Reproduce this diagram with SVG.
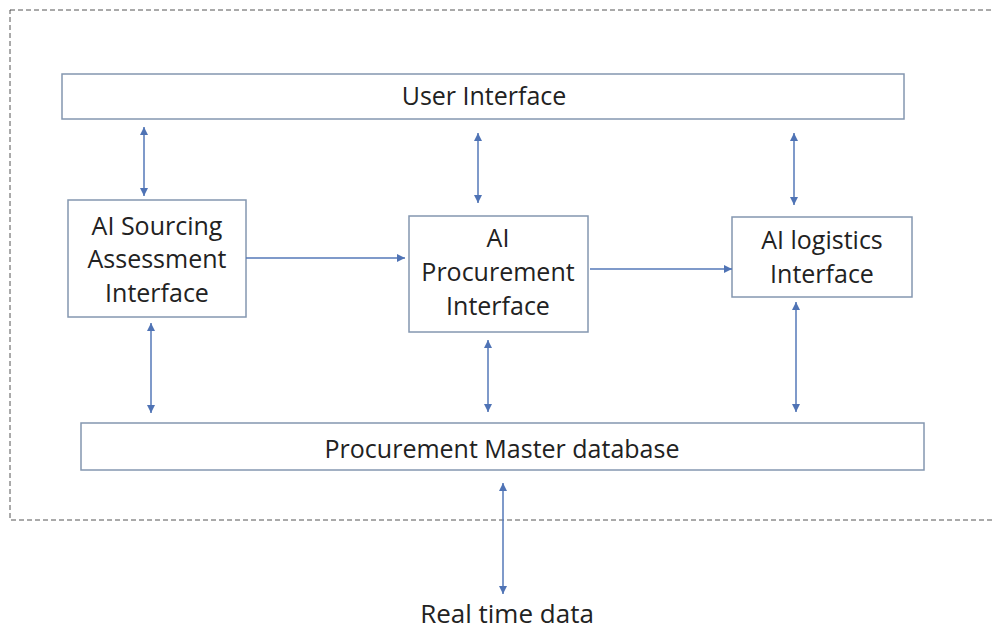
<svg xmlns="http://www.w3.org/2000/svg" width="993" height="631" viewBox="0 0 993 631">
<style>
.box{fill:#fff;stroke:#8497b0;stroke-width:1.5}
.lbl{font-family:"Open Sans","Liberation Sans",sans-serif;font-size:25px;fill:#222;text-anchor:middle}
.con{stroke:#5578b8;stroke-width:1.5;fill:none}
.frame{fill:none;stroke:#555;stroke-width:1;stroke-dasharray:5 3}
</style>
<defs>
<marker id="ah" viewBox="0 0 10 10" refX="10" refY="5" markerWidth="9" markerHeight="8" markerUnits="userSpaceOnUse" orient="auto-start-reverse">
<path d="M0,0 L10,5 L0,10 Z" fill="#4f73b5"/>
</marker>
</defs>
<rect width="993" height="631" fill="#fff"/>
<rect class="frame" x="10" y="10" width="1000" height="510"/>
<g id="user-interface">
<rect class="box" x="62" y="74" width="842" height="45"/>
<text class="lbl" x="484" y="105">User Interface</text>
</g>
<g id="ai-sourcing">
<rect class="box" x="68" y="200" width="178" height="117"/>
<text class="lbl" x="157" y="235">AI Sourcing</text>
<text class="lbl" x="157" y="268">Assessment</text>
<text class="lbl" x="157" y="302">Interface</text>
</g>
<g id="ai-procurement">
<rect class="box" x="409" y="216" width="179" height="116"/>
<text class="lbl" x="498" y="247">AI</text>
<text class="lbl" x="498" y="281">Procurement</text>
<text class="lbl" x="498" y="315">Interface</text>
</g>
<g id="ai-logistics">
<rect class="box" x="732" y="217" width="180" height="80"/>
<text class="lbl" x="822" y="249">AI logistics</text>
<text class="lbl" x="822" y="283">Interface</text>
</g>
<g id="master-db">
<rect class="box" x="81" y="423" width="843" height="47"/>
<text class="lbl" x="502" y="458">Procurement Master database</text>
</g>
<g id="real-time-data">
<text class="lbl" x="507" y="623" style="font-size:26px">Real time data</text>
</g>
<g id="connectors">
<line class="con" x1="144" y1="127" x2="144" y2="196" marker-start="url(#ah)" marker-end="url(#ah)"/>
<line class="con" x1="478" y1="133" x2="478" y2="203" marker-start="url(#ah)" marker-end="url(#ah)"/>
<line class="con" x1="794" y1="133" x2="794" y2="205" marker-start="url(#ah)" marker-end="url(#ah)"/>
<line class="con" x1="246" y1="258" x2="405" y2="258" marker-end="url(#ah)"/>
<line class="con" x1="590" y1="269" x2="732" y2="269" marker-end="url(#ah)"/>
<line class="con" x1="151" y1="323" x2="151" y2="413" marker-start="url(#ah)" marker-end="url(#ah)"/>
<line class="con" x1="488" y1="340" x2="488" y2="412" marker-start="url(#ah)" marker-end="url(#ah)"/>
<line class="con" x1="796" y1="302" x2="796" y2="412" marker-start="url(#ah)" marker-end="url(#ah)"/>
<line class="con" x1="503" y1="483" x2="503" y2="594" marker-start="url(#ah)" marker-end="url(#ah)"/>
</g>
</svg>
